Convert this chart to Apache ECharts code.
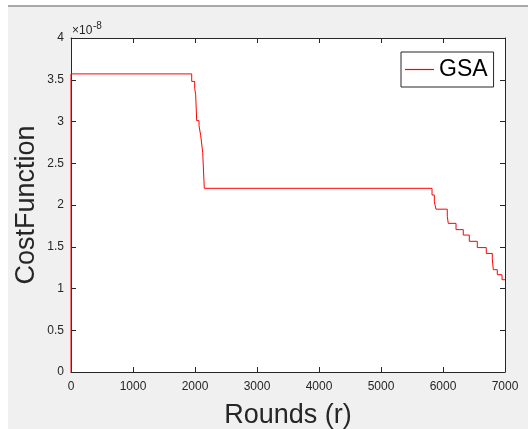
<!DOCTYPE html>
<html>
<head>
<meta charset="utf-8">
<script src="https://cdn.jsdelivr.net/npm/echarts@6/dist/echarts.min.js"></script>
<style>
  html, body { margin: 0; padding: 0; background: #ffffff; }
  #wrap { position: relative; width: 528px; height: 429px; overflow: hidden; }
  #bg { position: absolute; left: 8px; top: 5px; right: 0; bottom: 0; background: #f0f0f0; border-top: 2px solid #a8a8a8; }
  #chart { position: absolute; left: 0; top: 0; width: 528px; height: 429px; }
</style>
</head>
<body>
<div id="wrap">
  <div id="bg"></div>
  <div id="chart"></div>
</div>
<script>
// Data (cost values in units of 1e-8)
const seriesName = 'GSA';
const rounds = [0, 0, 1947, 1995, 2011, 2027, 2065, 2092, 2124, 2150, 5823, 5860, 5887, 6069, 6085, 6210, 6327, 6424, 6553, 6698, 6795, 6811, 6876, 6952, 7000];
const costValues = [0, 3.57, 3.48, 3.40, 3.32, 3.01, 2.95, 2.83, 2.63, 2.20, 2.12, 2.04, 1.95, 1.865, 1.78, 1.705, 1.64, 1.565, 1.49, 1.42, 1.355, 1.225, 1.165, 1.105, 1.105];
const xTicks = [0, 1000, 2000, 3000, 4000, 5000, 6000, 7000];
const yTicks = [0, 0.5, 1, 1.5, 2, 2.5, 3, 3.5, 4];
const exponentBase = '×10';
const exponentPower = '-8';
const xName = 'Rounds (r)';
const yName = 'CostFunction';

const font = '"Liberation Sans", Arial, Helvetica, sans-serif';
const axisColor = '#262626';

const chart = echarts.init(document.getElementById('chart'), null, { renderer: 'canvas' });

const tickCommon = { show: true, inside: true, length: 5, lineStyle: { color: axisColor, width: 1 } };
const lineCommon = { show: true, onZero: false, lineStyle: { color: axisColor, width: 1 } };

chart.setOption({
  backgroundColor: 'transparent',
  animation: false,
  grid: { left: 71, right: 23, top: 38, bottom: 57, show: true, backgroundColor: '#ffffff', borderWidth: 0, containLabel: false, outerBoundsMode: 'none' },
  legend: {
    show: true,
    data: [seriesName],
    left: 401, top: 52,
    orient: 'vertical',
    backgroundColor: '#ffffff',
    borderColor: axisColor,
    borderWidth: 1,
    borderRadius: 0,
    padding: [6, 6, 6, 4],
    icon: 'rect',
    itemWidth: 29,
    itemHeight: 1.2,
    itemGap: 0,
    itemStyle: { color: '#ff0000', borderWidth: 0 },
    textStyle: { fontFamily: font, fontSize: 23, color: '#000000' }
  },
  xAxis: [
    {
      type: 'value', min: xTicks[0], max: xTicks[xTicks.length - 1], interval: xTicks[1] - xTicks[0],
      position: 'bottom',
      name: xName, nameLocation: 'middle', nameGap: 30,
      nameTextStyle: { fontFamily: font, fontSize: 27, color: axisColor },
      axisLine: lineCommon, axisTick: tickCommon, splitLine: { show: false },
      axisLabel: { show: true, margin: 9, fontFamily: font, fontSize: 12, color: axisColor, formatter: v => String(v) }
    },
    {
      type: 'value', min: xTicks[0], max: xTicks[xTicks.length - 1], interval: xTicks[1] - xTicks[0],
      position: 'top',
      axisLine: lineCommon, axisTick: tickCommon, splitLine: { show: false },
      axisLabel: { show: false }
    }
  ],
  yAxis: [
    {
      type: 'value', min: yTicks[0], max: yTicks[yTicks.length - 1], interval: yTicks[1] - yTicks[0],
      position: 'left',
      name: yName, nameLocation: 'middle', nameGap: 31, nameMoveOverlap: false,
      nameTextStyle: { fontFamily: font, fontSize: 27, color: axisColor },
      axisLine: lineCommon, axisTick: tickCommon, splitLine: { show: false },
      axisLabel: { show: true, margin: 7, fontFamily: font, fontSize: 12, color: axisColor, formatter: v => String(v) }
    },
    {
      type: 'value', min: yTicks[0], max: yTicks[yTicks.length - 1], interval: yTicks[1] - yTicks[0],
      position: 'right',
      axisLine: lineCommon, axisTick: tickCommon, splitLine: { show: false },
      axisLabel: { show: false }
    }
  ],
  graphic: [
    { type: 'text', left: 72, top: 25, style: { text: exponentBase, font: '12px ' + font, fill: axisColor } },
    { type: 'text', left: 93, top: 21, style: { text: exponentPower, font: '10px ' + font, fill: axisColor } }
  ],
  series: [
    {
      name: seriesName,
      type: 'line',
      xAxisIndex: 0, yAxisIndex: 0,
      step: 'end',
      symbol: 'none',
      showSymbol: false,
      lineStyle: { color: '#ff0000', width: 1 },
      itemStyle: { color: '#ff0000' },
      data: rounds.map((r, i) => [r, costValues[i]]),
      z: 3
    }
  ]
});
</script>
</body>
</html>
